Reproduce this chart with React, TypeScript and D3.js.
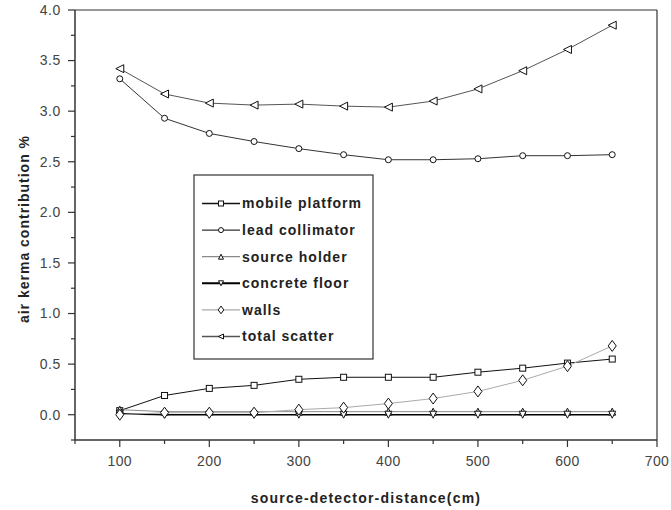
import React from "react";
import * as d3 from "d3";

const distances = [100, 150, 200, 250, 300, 350, 400, 450, 500, 550, 600, 650];
const mobilePlatform = [0.04, 0.19, 0.26, 0.29, 0.35, 0.37, 0.37, 0.37, 0.42, 0.46, 0.51, 0.55];
const leadCollimator = [3.32, 2.93, 2.78, 2.7, 2.63, 2.57, 2.52, 2.52, 2.53, 2.56, 2.56, 2.57];
const sourceHolder = [0.05, 0.03, 0.03, 0.03, 0.03, 0.03, 0.03, 0.03, 0.03, 0.03, 0.03, 0.03];
const concreteFloor = [0.01, 0.0, 0.0, 0.0, 0.0, 0.0, 0.0, 0.0, 0.0, 0.0, 0.0, 0.0];
const walls = [0.0, 0.02, 0.02, 0.02, 0.05, 0.07, 0.11, 0.16, 0.23, 0.34, 0.48, 0.68];
const totalScatter = [3.42, 3.17, 3.08, 3.06, 3.07, 3.05, 3.04, 3.1, 3.22, 3.4, 3.61, 3.85];

const seriesNames = ["mobile platform", "lead collimator", "source holder", "concrete floor", "walls", "total scatter"];
const seriesValues = [mobilePlatform, leadCollimator, sourceHolder, concreteFloor, walls, totalScatter];
const seriesMarkers = ["square", "circle", "triangleUp", "triangleDown", "diamond", "triangleLeft"];
const seriesColors = ["#111", "#333", "#8a8a8a", "#000", "#aaa", "#555"];
const seriesWidths = [1, 1, 1, 1.6, 1, 1];

const xTicks = [100, 200, 300, 400, 500, 600, 700];
const xMinor = [50, 150, 250, 350, 450, 550, 650];
const yTicks = [0, 0.5, 1, 1.5, 2, 2.5, 3, 3.5, 4];
const yMinor = [-0.25, 0.25, 0.75, 1.25, 1.75, 2.25, 2.75, 3.25, 3.75];

const W = 671;
const H = 510;
const left = 75;
const right = 657;
const top = 10;
const bottom = 440;

const x = d3.scaleLinear().domain([50, 700]).range([left, right]);
const y = d3.scaleLinear().domain([-0.25, 4]).range([bottom, top]);

function Marker({ kind, cx, cy, s }: { kind: string; cx: number; cy: number; s: number }) {
  const common = { fill: "#fff", stroke: "#111", strokeWidth: 1 };
  if (kind === "square") {
    return <rect x={cx - s / 2} y={cy - s / 2} width={s} height={s} {...common} />;
  }
  if (kind === "circle") {
    return <circle cx={cx} cy={cy} r={s / 2} {...common} />;
  }
  if (kind === "diamond") {
    const w = s * 0.8;
    const h = s * 1.1;
    return <path d={`M${cx},${cy - h / 2}L${cx + w / 2},${cy}L${cx},${cy + h / 2}L${cx - w / 2},${cy}Z`} {...common} />;
  }
  const h = s;
  let d = "";
  if (kind === "triangleUp") d = `M${cx},${cy - h / 2}L${cx + h / 2},${cy + h / 2}L${cx - h / 2},${cy + h / 2}Z`;
  if (kind === "triangleDown") d = `M${cx},${cy + h / 2}L${cx + h / 2},${cy - h / 2}L${cx - h / 2},${cy - h / 2}Z`;
  if (kind === "triangleLeft") d = `M${cx - h / 2},${cy}L${cx + h / 2},${cy - h / 2}L${cx + h / 2},${cy + h / 2}Z`;
  return <path d={d} {...common} />;
}

const markerSizes: Record<string, number> = {
  square: 6,
  circle: 6,
  triangleUp: 7,
  triangleDown: 7,
  diamond: 10,
  triangleLeft: 8,
};

export default function App() {
  const line = d3
    .line<number>()
    .x((_, i) => x(distances[i]))
    .y((v) => y(v));

  const font = "'Liberation Sans', Arial, sans-serif";
  const axisColor = "#333";

  const legendX = 194;
  const legendY = 175;
  const legendW = 179;
  const legendH = 184;
  const rowY0 = 203.5;
  const rowStep = 26.6;

  return (
    <svg
      width={W}
      height={H}
      style={{ position: "absolute", left: 0, top: 0, background: "#fff" }}
      fontFamily={font}
    >
      <rect x={0} y={0} width={W} height={H} fill="#fff" />
      {seriesValues.map((vals, si) => (
        <path
          key={"l" + si}
          d={line(vals) || ""}
          fill="none"
          stroke={seriesColors[si]}
          strokeWidth={seriesWidths[si]}
        />
      ))}
      {seriesValues.map((vals, si) =>
        vals.map((v, i) => (
          <Marker
            key={"m" + si + "-" + i}
            kind={seriesMarkers[si]}
            cx={x(distances[i])}
            cy={y(v)}
            s={markerSizes[seriesMarkers[si]]}
          />
        ))
      )}

      <line x1={left} y1={top} x2={right} y2={top} stroke={axisColor} strokeWidth={1.2} />
      <line x1={right} y1={top} x2={right} y2={bottom} stroke={axisColor} strokeWidth={1.2} />
      <line x1={left} y1={top} x2={left} y2={bottom} stroke={axisColor} strokeWidth={1.5} />
      <line x1={left} y1={bottom} x2={right} y2={bottom} stroke={axisColor} strokeWidth={1.5} />

      {yTicks.map((t) => (
        <g key={"yt" + t}>
          <line x1={left - 7} x2={left} y1={y(t)} y2={y(t)} stroke={axisColor} strokeWidth={1.2} />
          <text x={left - 14} y={y(t)} dy="0.35em" textAnchor="end" fontSize={14} letterSpacing={0.6} fill="#444">
            {t.toFixed(1)}
          </text>
        </g>
      ))}
      {yMinor.map((t) => (
        <line key={"ym" + t} x1={left - 4} x2={left} y1={y(t)} y2={y(t)} stroke={axisColor} strokeWidth={1.2} />
      ))}

      {xTicks.map((t) => (
        <g key={"xt" + t}>
          <line x1={x(t)} x2={x(t)} y1={bottom} y2={bottom + 7} stroke={axisColor} strokeWidth={1.2} />
          <text x={x(t)} y={bottom + 26} textAnchor="middle" fontSize={14} letterSpacing={0.4} fill="#444">
            {t}
          </text>
        </g>
      ))}
      {xMinor.map((t) => (
        <line key={"xm" + t} x1={x(t)} x2={x(t)} y1={bottom} y2={bottom + 4} stroke={axisColor} strokeWidth={1.2} />
      ))}

      <text x={366} y={503} textAnchor="middle" fontSize={14} fontWeight="bold" letterSpacing={1.2} fill="#222">
        source-detector-distance(cm)
      </text>
      <text
        transform={`translate(29, 229) rotate(-90)`}
        textAnchor="middle"
        fontSize={14}
        fontWeight="bold"
        letterSpacing={1}
        fill="#222"
      >
        air kerma contribution %
      </text>

      <rect x={legendX} y={legendY} width={legendW} height={legendH} fill="#fff" stroke="#333" strokeWidth={1.2} />
      {seriesNames.map((name, si) => {
        const ry = rowY0 + si * rowStep;
        return (
          <g key={"lg" + si}>
            <line x1={202} x2={240} y1={ry} y2={ry} stroke={seriesColors[si]} strokeWidth={seriesWidths[si] + 0.3} />
            <Marker kind={seriesMarkers[si]} cx={221} cy={ry} s={si === 4 ? 7 : 5} />
            <text x={242} y={ry} dy="0.35em" fontSize={14} fontWeight="bold" fill="#222" letterSpacing={1}>
              {name}
            </text>
          </g>
        );
      })}
    </svg>
  );
}
